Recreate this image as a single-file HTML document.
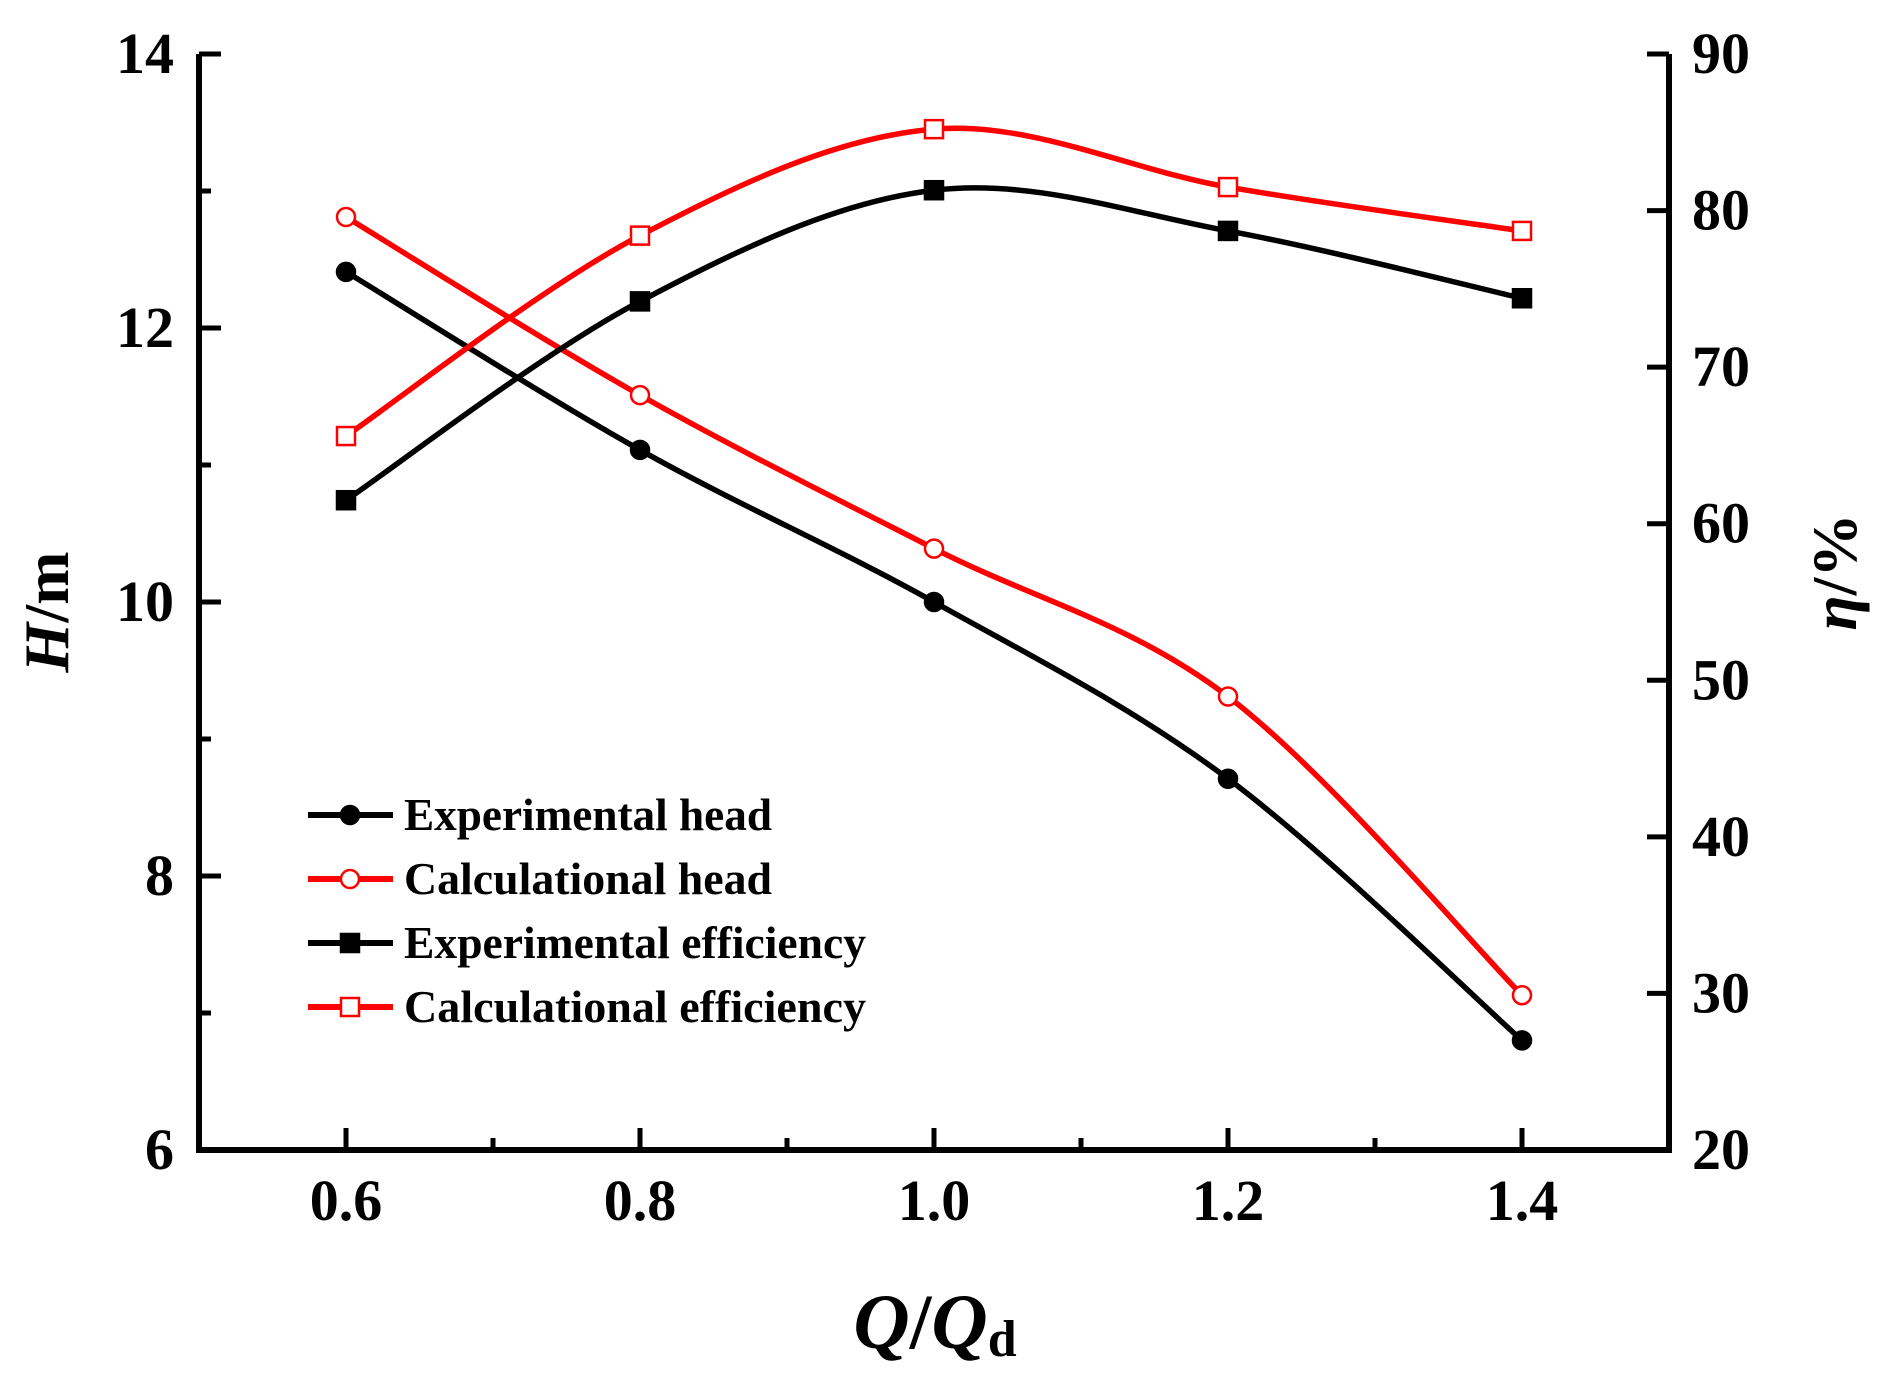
<!DOCTYPE html>
<html><head><meta charset="utf-8"><style>
html,body{margin:0;padding:0;background:#fff}
svg{display:block}
text{font-family:"Liberation Serif",serif;font-weight:bold;fill:#000}
</style></head><body>
<svg id="chart" width="1880" height="1382" viewBox="0 0 1880 1382" xmlns="http://www.w3.org/2000/svg">
<g id="axes"></g>
<g id="series"></g>
<g id="legend"></g>
<text transform="translate(68,612) rotate(-90)" text-anchor="middle" font-size="64"><tspan font-style="italic">H</tspan>/m</text>
<text transform="translate(1856,572) rotate(-90)" text-anchor="middle" font-size="64"><tspan font-style="italic">η</tspan>/%</text>
<text x="935" y="1348" text-anchor="middle" font-size="78"><tspan font-style="italic">Q</tspan>/<tspan font-style="italic">Q</tspan><tspan font-size="52" dy="8">d</tspan></text>
</svg>
<script>
const xCats = [0.6, 0.8, 1.0, 1.2, 1.4];
const expHead = [12.41, 11.11, 10.0, 8.71, 6.8];
const calcHead = [12.81, 11.51, 10.39, 9.31, 7.13];
const expEff = [61.5, 74.2, 81.3, 78.7, 74.4];
const calcEff = [65.6, 78.4, 85.2, 81.5, 78.7];
const xTickLabels = ["0.6", "0.8", "1.0", "1.2", "1.4"];
const yLeftTickLabels = ["6", "8", "10", "12", "14"];
const yRightTickLabels = ["20", "30", "40", "50", "60", "70", "80", "90"];

const L = 199, R = 1669, T = 54, B = 1150;
const xs = v => L + (v - 0.5) / 1.0 * (R - L);
const yl = v => B - (v - 6) / 8 * (B - T);
const yr = v => B - (v - 20) / 70 * (B - T);
const NS = "http://www.w3.org/2000/svg";
function mk(tag, attrs, parent) {
  const e = document.createElementNS(NS, tag);
  for (const k in attrs) e.setAttribute(k, attrs[k]);
  parent.appendChild(e);
  return e;
}
const axes = document.getElementById('axes');
let el = mk('path', {d: `M${L},${T} L${L},${B} L${R},${B} L${R},${T}`, fill: 'none', stroke: '#000', 'stroke-width': 6}, axes);


for (let v = 0.6; v <= 1.45; v += 0.1) {
  const major = Math.round(v * 10) % 2 === 0;
  el = mk('line', {x1: xs(v), x2: xs(v), y1: B, y2: B - (major ? 22 : 12), stroke: '#000', 'stroke-width': 5}, axes);
  
  
}
xTickLabels.forEach((t, i) => {
  el = mk('text', {x: xs(xCats[i]), y: 1220, 'text-anchor': 'middle', 'font-size': 58}, axes);
  el.textContent = t;
  
  
});
for (let v = 6; v <= 14; v += 1) {
  const major = v % 2 === 0;
  el = mk('line', {x1: L, x2: L + (major ? 22 : 12), y1: yl(v), y2: yl(v), stroke: '#000', 'stroke-width': 5}, axes);
  
  
}
yLeftTickLabels.forEach(t => {
  el = mk('text', {x: 174, y: yl(+t) + 19, 'text-anchor': 'end', 'font-size': 58}, axes);
  el.textContent = t;
  
  
});
yRightTickLabels.forEach(t => {
  el = mk('line', {x1: R, x2: R - 22, y1: yr(+t), y2: yr(+t), stroke: '#000', 'stroke-width': 5}, axes);
  
  
  el = mk('text', {x: 1692, y: yr(+t) + 19, 'text-anchor': 'start', 'font-size': 58}, axes);
  el.textContent = t;
  
  
});

function smooth(pts) {
  let d = `M${pts[0][0]},${pts[0][1]}`;
  for (let i = 0; i < pts.length - 1; i++) {
    const p0 = pts[Math.max(0, i - 1)], p1 = pts[i], p2 = pts[i + 1], p3 = pts[Math.min(pts.length - 1, i + 2)];
    const c1 = [p1[0] + (p2[0] - p0[0]) / 6, p1[1] + (p2[1] - p0[1]) / 6];
    const c2 = [p2[0] - (p3[0] - p1[0]) / 6, p2[1] - (p3[1] - p1[1]) / 6];
    d += ` C${c1[0]},${c1[1]} ${c2[0]},${c2[1]} ${p2[0]},${p2[1]}`;
  }
  return d;
}
const seriesG = document.getElementById('series');
function marker(g, x, y, shape, color, filled) {
  let m;
  if (shape === 'circle') m = mk('circle', {cx: x, cy: y, r: 9, fill: filled ? color : '#fff', stroke: color, 'stroke-width': 2.5}, g);
  else m = mk('rect', {x: x - 9, y: y - 9, width: 18, height: 18, fill: filled ? color : '#fff', stroke: color, 'stroke-width': 2.5}, g);
  return m;
}
const defs = [
  {vals: expHead, ys: yl, color: '#000', shape: 'circle', filled: true, name: 'experimental-head', label: 'Experimental head'},
  {vals: calcHead, ys: yl, color: '#ff0000', shape: 'circle', filled: false, name: 'calculational-head', label: 'Calculational head'},
  {vals: expEff, ys: yr, color: '#000', shape: 'square', filled: true, name: 'experimental-efficiency', label: 'Experimental efficiency'},
  {vals: calcEff, ys: yr, color: '#ff0000', shape: 'square', filled: false, name: 'calculational-efficiency', label: 'Calculational efficiency'}
];
defs.forEach(s => {
  const g = mk('g', {}, seriesG);
  
  
  const pts = s.vals.map((v, i) => [xs(xCats[i]), s.ys(v)]);
  el = mk('path', {d: smooth(pts), fill: 'none', stroke: s.color, 'stroke-width': 5.5}, g);
  
  
  pts.forEach(p => {
    const m = marker(g, p[0], p[1], s.shape, s.color, s.filled);
    
    
  });
});
const legG = document.getElementById('legend');
const legY = [815, 879, 943, 1007];
defs.forEach((s, i) => {
  const g = mk('g', {}, legG);
  
  
  mk('line', {x1: 308, x2: 393, y1: legY[i], y2: legY[i], stroke: s.color, 'stroke-width': 6}, g);
  marker(g, 350, legY[i], s.shape, s.color, s.filled);
  const t = mk('text', {x: 404, y: legY[i] + 15, 'font-size': 45, textLength: s.label.indexOf('head') > 0 ? 368 : 462, lengthAdjust: 'spacingAndGlyphs'}, g);
  t.textContent = s.label;
  
  
});
</script>
</body></html>
